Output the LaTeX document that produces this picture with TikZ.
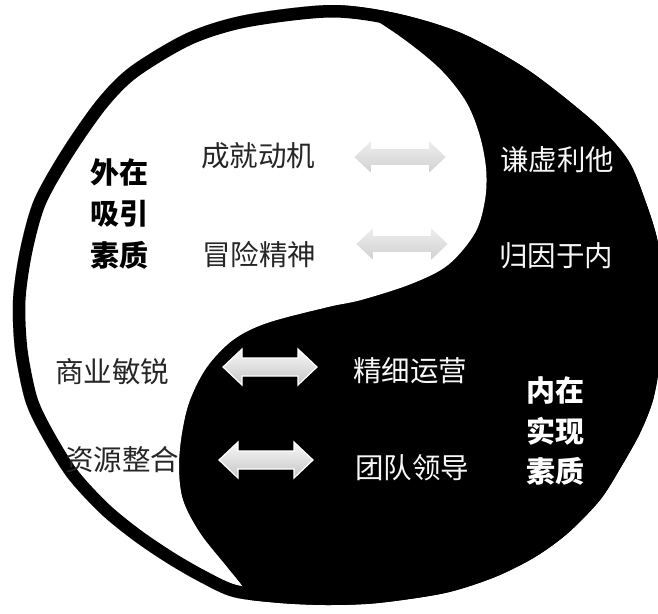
\documentclass[tikz,border=0pt]{standalone}
\usepackage{fontspec}
\newfontfamily\cjk{Noto Sans CJK SC}
\usetikzlibrary{shadows}
\tikzset{
  dblarrow/.pic={
    \path[pic actions] (-47,0) -- (-28,-18) -- (-28,-9) -- (28,-9) -- (28,-18)
      -- (47,0) -- (28,18) -- (28,9) -- (-28,9) -- (-28,18) -- cycle;
  },
  palearrow/.style={draw=white, line width=1.6pt, top color=gray!12, bottom color=gray!38,
    drop shadow={shadow xshift=1.5pt, shadow yshift=-3pt, opacity=0.4, fill=gray}},
  brightarrow/.style={draw=white, line width=1.2pt, top color=gray!5, bottom color=gray!45},
  darklabel/.style={text=black!85, font=\cjk\fontsize{28.5}{30}\selectfont, inner sep=0pt},
  lightlabel/.style={text=white!94!gray, font=\cjk\fontsize{28.5}{30}\selectfont, inner sep=0pt},
  boldblack/.style={text=black, font=\cjk\bfseries\fontsize{29}{30}\selectfont, inner sep=0pt},
  boldwhite/.style={text=white, font=\cjk\bfseries\fontsize{29}{30}\selectfont, inner sep=0pt},
}
\def\outershape{plot[smooth cycle, tension=0.5] coordinates {
 (330,5) (395,13) (461,33) (528,70) (595,123) (628,160) (645,200) (658,243) (664,300)
 (660,360) (653,400) (640,433) (621,467) (600,500) (568,533) (535,557) (495,577)
 (445,593) (378,603) (328,605) (280,603) (233,597) (200,582) (167,563) (133,540)
 (100,513) (67,477) (40,433) (25,400) (15,350) (13,300) (20,250) (34,200) (62,150)
 (97,100) (130,67) (187,33) (245,15)}}
\begin{document}
\begin{tikzpicture}[x=1pt,y=-1pt]
\useasboundingbox (0,0) rectangle (658,613);
\fill[white] (0,0) rectangle (658,613);
\begin{scope}
\clip (0,0) rectangle (658,613);
\fill[black] \outershape;
\begin{scope}
\clip \outershape;
\fill[white] (-20,-40) -- (300,-40) -- plot[smooth, tension=0.55] coordinates {
 (300,-5) (355,10) (395,33) (438,67) (465,100) (479,133) (486,168) (485,200)
 (475,233) (448,265) (411,284) (361,300) (328,307) (267,323) (233,340) (207,367)
 (190,400) (182,433) (179,467) (183,500) (200,533) (227,567) (245,590) (262,620)}
 -- (-20,650) -- cycle;
\draw[black, line width=25pt] \outershape;
\end{scope}
\end{scope}
% arrows
\pic[palearrow] (a1) at (400,157) {dblarrow};
\pic[palearrow] (a2) at (402,244) {dblarrow};
\pic[brightarrow] (a3) at (270,367) {dblarrow};
\pic[brightarrow] (a4) at (266,460) {dblarrow};
% labels
\node[darklabel] (cj) at (258,156) {成就动机};
\node[darklabel] (mx) at (259,255) {冒险精神};
\node[lightlabel] (qx) at (557,160) {谦虚利他};
\node[lightlabel] (gy) at (556,256) {归因于内};
\node[darklabel] (sy) at (112,372) {商业敏锐};
\node[darklabel] (zy) at (122,460) {资源整合};
\node[lightlabel] (jx) at (410,371) {精细运营};
\node[lightlabel] (td) at (412,468) {团队领导};
\node[boldblack] (wz) at (119,172) {外在};
\node[boldblack] (xy) at (119,214) {吸引};
\node[boldblack] (sz1) at (119,255) {素质};
\node[boldwhite] (nz) at (555,390) {内在};
\node[boldwhite] (sx) at (555,431) {实现};
\node[boldwhite] (sz2) at (555,471) {素质};
\end{tikzpicture}
\end{document}
